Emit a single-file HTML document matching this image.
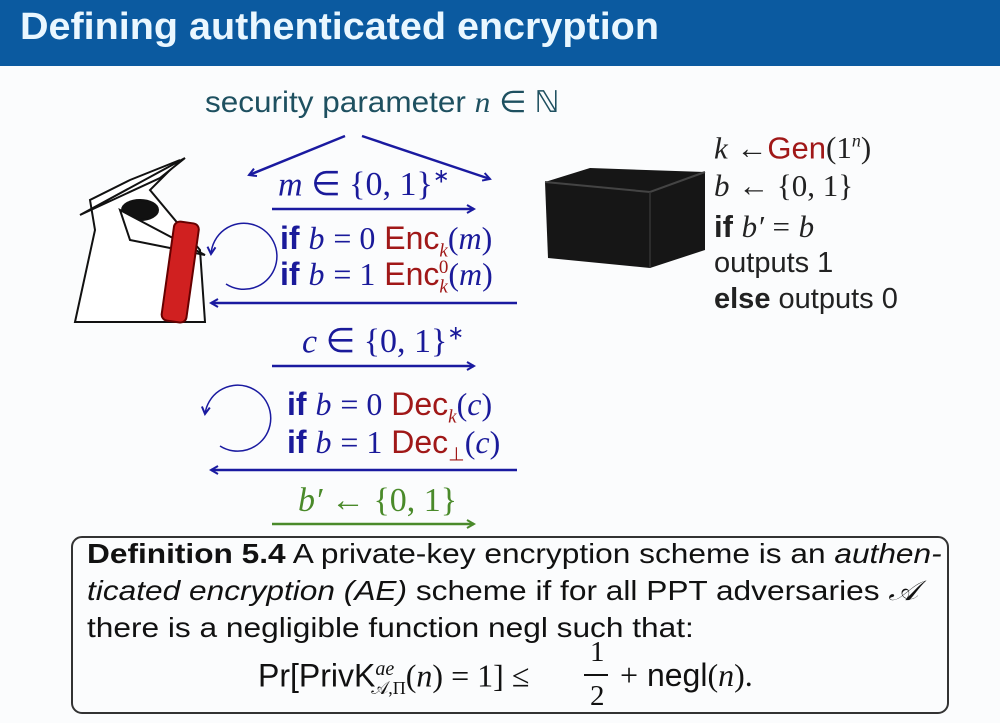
<!DOCTYPE html>
<html><head><meta charset="utf-8"><style>
body{margin:0;width:1000px;height:723px;background:#fbfcfd;position:relative;overflow:hidden;font-family:"Liberation Sans",sans-serif}
.t{position:absolute;white-space:nowrap;line-height:1}
.m{font-family:"Liberation Serif",serif;font-style:italic}
.r{font-family:"Liberation Serif",serif}
.b{color:#1a1a9a}
.red{color:#a01818}
.sx{transform-origin:left top}
</style></head><body>
<div style="position:absolute;left:0;top:0;width:1000px;height:66px;background:#0b5aa0"></div>
<div class="t" style="left:20px;top:8px;font-size:38px;color:#eaf7ff;font-weight:bold;transform:scaleX(1.04);transform-origin:left">Defining authenticated encryption</div>

<div class="t" style="left:205px;top:88px;font-size:30px;color:#1e5060;transform:scaleX(1.05);transform-origin:left">security parameter <span class="m">n</span> <span class="r">∈ ℕ</span></div>

<svg style="position:absolute;left:0;top:0" width="1000" height="723">
<defs>
<marker id="a" markerWidth="10" markerHeight="10" refX="8" refY="5" orient="auto" markerUnits="userSpaceOnUse"><path d="M1,1 L8,5 L1,9" fill="none" stroke="#1a1aa0" stroke-width="2"/></marker>
<marker id="g" markerWidth="10" markerHeight="10" refX="8" refY="5" orient="auto" markerUnits="userSpaceOnUse"><path d="M1,1 L8,5 L1,9" fill="none" stroke="#4a8a2a" stroke-width="2"/></marker>
</defs>
<g stroke="#1a1aa0" stroke-width="2.5" fill="none">
<line x1="345" y1="136" x2="249" y2="175" marker-end="url(#a)"/>
<line x1="362" y1="136" x2="490" y2="179" marker-end="url(#a)"/>
<line x1="272" y1="209" x2="474" y2="209" marker-end="url(#a)"/>
<line x1="517" y1="303" x2="211" y2="303" marker-end="url(#a)"/>
<line x1="272" y1="366" x2="474" y2="366" marker-end="url(#a)"/>
<line x1="517" y1="470" x2="211" y2="470" marker-end="url(#a)"/>
<line x1="272" y1="524" x2="474" y2="524" stroke="#4a8a2a" marker-end="url(#g)"/>
</g>
<g stroke="#1a1aa0" stroke-width="1.5" fill="none">
<path d="M226,284 A33,33 0 1 0 211,254" marker-end="url(#a)"/>
<path d="M220,446 A33,33 0 1 0 205,414" marker-end="url(#a)"/>
</g>
<g stroke="#111" stroke-width="2" fill="#fff">
<path d="M75,322 L95,230 L90,200 L130,180 L180,160 L150,190 L200,250 L205,322 Z"/>
<path d="M80,215 L185,158 L160,178 Z" fill="#fff"/>
<ellipse cx="140" cy="210" rx="18" ry="10" fill="#111"/>
<path d="M120,210 L205,255 L130,240 Z" fill="#fff"/>
<rect x="168" y="222" width="25" height="100" rx="6" transform="rotate(8 180 270)" fill="#d02020" stroke="#600"/>
</g>
<path d="M545,182 L590,168 L705,172 L705,250 L650,268 L548,258 Z" fill="#161616"/>
<path d="M545,182 L650,192 L705,172" fill="none" stroke="#444" stroke-width="2"/>
<line x1="650" y1="192" x2="650" y2="268" stroke="#333" stroke-width="1.5"/>
<rect x="72" y="537" width="876" height="176" rx="10" fill="none" stroke="#333" stroke-width="2"/>
</svg>

<div class="t b m" style="left:278px;top:167px;font-size:34px">m <span class="r" style="font-style:normal">∈ {0, 1}<sup style="font-size:20px">∗</sup></span></div>
<div class="t b" style="left:280px;top:222px;font-size:32px"><b>if</b> <span class="m">b</span> <span class="r">= 0</span> <span class="red">Enc<sub class="m" style="font-size:19px">k</sub></span><span class="r">(<i>m</i>)</span></div>
<div class="t b" style="left:280px;top:258px;font-size:32px"><b>if</b> <span class="m">b</span> <span class="r">= 1</span> <span class="red">Enc<sub class="m" style="font-size:19px">k</sub><sup style="font-size:19px;margin-left:-9px" class="r">0</sup></span><span class="r">(<i>m</i>)</span></div>
<div class="t b m" style="left:302px;top:324px;font-size:34px">c <span class="r" style="font-style:normal">∈ {0, 1}<sup style="font-size:20px">∗</sup></span></div>
<div class="t b" style="left:287px;top:388px;font-size:32px"><b>if</b> <span class="m">b</span> <span class="r">= 0</span> <span class="red">Dec<sub class="m" style="font-size:19px">k</sub></span><span class="r">(<i>c</i>)</span></div>
<div class="t b" style="left:287px;top:426px;font-size:32px"><b>if</b> <span class="m">b</span> <span class="r">= 1</span> <span class="red">Dec<sub style="font-size:19px">⊥</sub></span><span class="r">(<i>c</i>)</span></div>
<div class="t m" style="left:298px;top:484px;font-size:34px;color:#4a8a2a">b′ <span class="r" style="font-style:normal">← {0, 1}</span></div>

<div class="t" style="left:714px;top:132px;font-size:31px;color:#222"><i class="r">k</i> <span class="r">←</span><span class="red">Gen</span><span class="r">(1<sup class="m" style="font-size:18px">n</sup>)</span></div>
<div class="t" style="left:714px;top:170px;font-size:31px;color:#222"><i class="r">b</i> <span class="r">← {0, 1}</span></div>
<div class="t" style="left:714px;top:211px;font-size:31px;color:#222"><b>if</b> <i class="r">b′</i> <span class="r">=</span> <i class="r">b</i></div>
<div class="t" style="left:714px;top:249px;font-size:29px;color:#222">outputs 1</div>
<div class="t" style="left:714px;top:285px;font-size:29px;color:#222"><b>else</b> outputs 0</div>

<div class="t sx" style="left:87px;top:540px;font-size:28px;color:#111;transform:scaleX(1.13)"><b>Definition 5.4</b> A private-key encryption scheme is an <i>authen-</i></div>
<div class="t sx" style="left:87px;top:577px;font-size:28px;color:#111;transform:scaleX(1.13)"><i>ticated encryption (AE)</i> scheme if for all PPT adversaries <i class="r">𝒜</i></div>
<div class="t sx" style="left:87px;top:614px;font-size:28px;color:#111;transform:scaleX(1.13)">there is a negligible function negl such that:</div>
<div class="t" style="left:258px;top:659px;font-size:32px;color:#111">Pr[PrivK<sup class="m" style="font-size:20px">ae</sup><sub class="r" style="font-size:18px;margin-left:-23px">𝒜,Π</sub><span class="r">(<i>n</i>) = 1] ≤ </span></div>
<div class="t r" style="left:590px;top:638px;font-size:29px;color:#111">1</div>
<div style="position:absolute;left:584px;top:674px;width:24px;height:2px;background:#111"></div>
<div class="t r" style="left:590px;top:682px;font-size:29px;color:#111">2</div>
<div class="t" style="left:620px;top:659px;font-size:32px;color:#111"><span class="r">+</span> negl<span class="r">(<i>n</i>).</span></div>
</body></html>
